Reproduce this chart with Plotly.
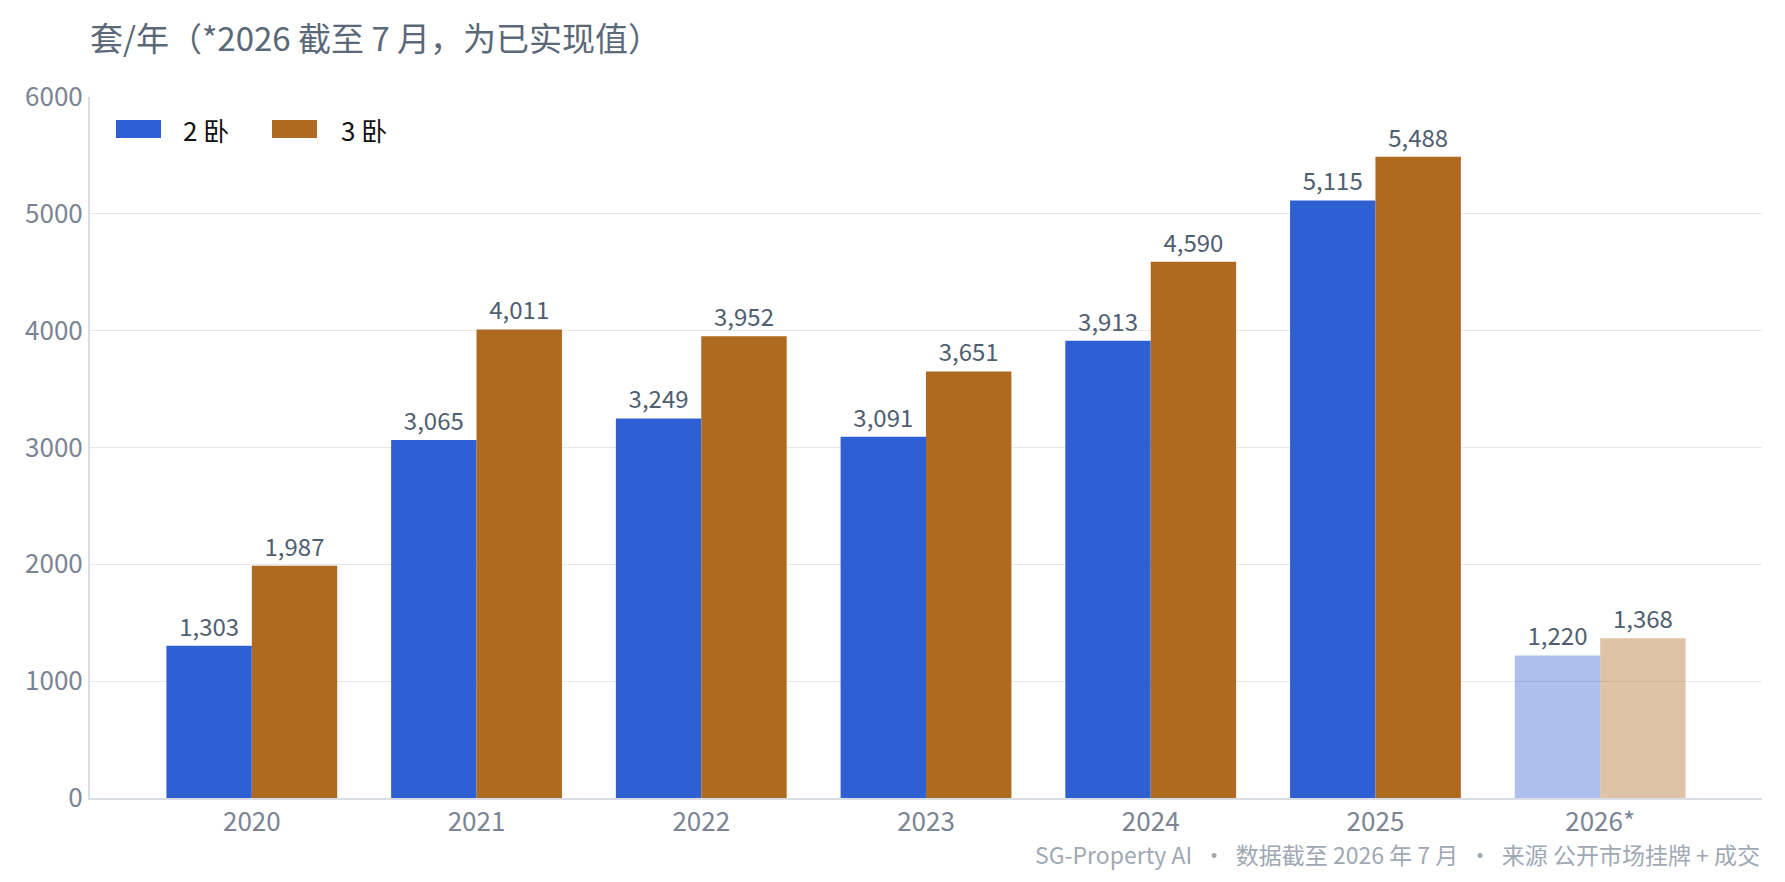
import plotly.graph_objects as go

years = ["2020", "2021", "2022", "2023", "2024", "2025", "2026*"]
two_bed = [1303, 3065, 3249, 3091, 3913, 5115, 1220]
three_bed = [1987, 4011, 3952, 3651, 4590, 5488, 1368]
series_names = ["2 卧", "3 卧"]

FONT = "Noto Sans CJK SC"
blue = "#2F60D3"
brown = "#AE6A20"
blue_light = "rgba(47,96,211,0.4)"
brown_light = "rgba(174,106,32,0.4)"

def colors(base, light):
    return [light if y.endswith("*") else base for y in years]

fig = go.Figure()
for name, vals, base, light in [
    (series_names[0], two_bed, blue, blue_light),
    (series_names[1], three_bed, brown, brown_light),
]:
    fig.add_trace(go.Bar(
        x=years, y=vals, name=name, showlegend=False,
        marker=dict(color=colors(base, light), line=dict(width=0)),
        text=[f"{v:,}" for v in vals], textposition="outside",
        textfont=dict(family=FONT, size=24, color="#4F5E70"),
        cliponaxis=False,
    ))

# Custom legend (wide swatches) in paper coordinates
L, R, T, B = 90, 23, 97, 84
W, H = 1785, 882
pw, ph = W - L - R, H - T - B
def px_x(x): return (x - L) / pw
def px_y(y): return (H - B - y) / ph

shapes = []
annotations = []
legend_items = [(series_names[0], blue, 116, 161, 181), (series_names[1], brown, 272, 317, 339)]
for name, col, x0, x1, tx in legend_items:
    shapes.append(dict(type="rect", xref="paper", yref="paper",
                       x0=px_x(x0), x1=px_x(x1), y0=px_y(138), y1=px_y(120),
                       fillcolor=col, line=dict(width=0)))
    annotations.append(dict(text=name, x=px_x(tx), y=px_y(129), xref="paper", yref="paper",
                            xanchor="left", yanchor="middle", showarrow=False,
                            font=dict(family=FONT, size=26, color="#111111")))

annotations.append(dict(text="SG-Property AI  ·  数据截至 2026 年 7 月  ·  来源 公开市场挂牌 + 成交",
                        x=1, y=px_y(854), xref="paper", yref="paper", xanchor="right", yanchor="middle",
                        showarrow=False, font=dict(family=FONT, size=23, color="#A0A8B4")))

fig.update_layout(
    width=W, height=H,
    paper_bgcolor="white", plot_bgcolor="white",
    font=dict(family=FONT),
    barmode="group", bargap=0.24, bargroupgap=0,
    margin=dict(l=L, r=R, t=T, b=B),
    showlegend=False,
    title=dict(text="套/年（*2026 截至 7 月，为已实现值）", x=0, xref="paper", xanchor="left",
               y=0.955, yanchor="middle",
               font=dict(family=FONT, size=33, color="#5A6878")),
    xaxis=dict(type="category", range=[-0.72, 6.72], showgrid=False, showline=True,
               linecolor="#D9DEE4", linewidth=2,
               ticks="", tickfont=dict(family=FONT, size=26, color="#7A8494")),
    yaxis=dict(range=[0, 6000], dtick=1000, showgrid=True, gridcolor="#E4E8ED", gridwidth=1,
               showline=True, linecolor="#D9DEE4", linewidth=2, zeroline=False,
               tickfont=dict(family=FONT, size=26, color="#7A8494"), ticks="",
               tickformat="d"),
    shapes=shapes,
    annotations=annotations,
)

fig.write_html("out.html")
